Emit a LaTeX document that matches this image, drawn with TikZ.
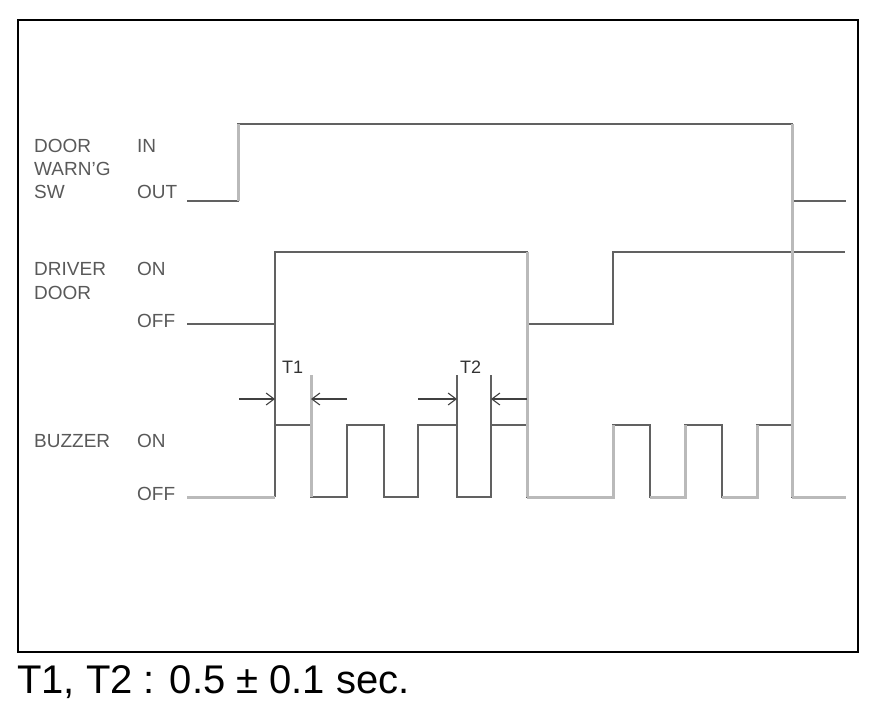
\documentclass[tikz,border=0pt]{standalone}
\usepackage{fontspec}
\setmainfont{Liberation Sans}
\usetikzlibrary{arrows.meta,positioning}

\tikzset{
  sig/.style={draw=black!62, line width=1.3pt},
  edge/.style={draw=black!27, line width=3pt},
  lbl/.style={anchor=base west, inner sep=0pt, text=black!65, font=\fontsize{19}{19}\selectfont},
  dim/.style={draw=black!75, line width=1.1pt, -{Straight Barb[length=8pt,width=12pt]}},
}

\begin{document}
\begin{tikzpicture}[x=1pt,y=-1pt]
  \useasboundingbox (0,0) rectangle (880,716);
  \draw[line width=2.5pt] (18,20) rectangle (858,652);

  % signal names and levels
  \node[lbl] (sw1) at (34,152) {DOOR};
  \node[lbl] (sw2) at (34,175) {WARN'G};
  \node[lbl] (sw3) at (34,198) {SW};
  \node[lbl] (swin) at (137,152) {IN};
  \node[lbl] (swout) at (137,198) {OUT};

  \node[lbl] (dd1) at (34,275) {DRIVER};
  \node[lbl] (dd2) at (34,299) {DOOR};
  \node[lbl] (ddon) at (137,275) {ON};
  \node[lbl] (ddoff) at (137,327) {OFF};

  \node[lbl] (bz) at (34,447) {BUZZER};
  \node[lbl] (bzon) at (137,447) {ON};
  \node[lbl] (bzoff) at (137,500) {OFF};

  % waveforms
  \draw[sig] (187,201) -- (238,201) -- (238,124) -- (792,124) -- (792,201) -- (846,201);
  \draw[sig] (187,324) -- (275,324) -- (275,252) -- (527,252) -- (527,324)
    -- (613,324) -- (613,252) -- (845,252);
  \draw[sig] (275,324) -- (275,497);
  \draw[sig] (275,425) -- (311,425) -- (311,497) -- (347,497) -- (347,425)
    -- (384,425) -- (384,497) -- (418,497) -- (418,425) -- (457,425) -- (457,497)
    -- (491,497) -- (491,425) -- (527,425) -- (527,497) -- (613,497) -- (613,425)
    -- (650,425) -- (650,497) -- (685,497) -- (685,425) -- (722,425) -- (722,497)
    -- (757,497) -- (757,425) -- (792,425) -- (792,497) -- (846,497);
  \draw[sig] (457,375) -- (457,425) (491,375) -- (491,425);

  \draw[edge] (238,201) -- (238,124);
  \draw[edge] (311,375) -- (311,497);
  \draw[edge] (527,252) -- (527,497);
  \draw[edge] (792,124) -- (792,497);
  \draw[edge] (187,497) -- (275,497);
  \draw[edge] (527,497) -- (613,497) -- (613,425);
  \draw[edge] (650,497) -- (685,497) -- (685,425);
  \draw[edge] (722,497) -- (757,497) -- (757,425);
  \draw[edge] (792,497) -- (846,497);

  % T1 / T2
  \coordinate (t1l) at (239,399);
  \coordinate (t1a) at (275,399);
  \coordinate (t1r) at (347,399);
  \coordinate (t1b) at (311,399);
  \coordinate (t2l) at (418,399);
  \coordinate (t2a) at (457,399);
  \coordinate (t2r) at (527,399);
  \coordinate (t2b) at (491,399);
  \draw[dim] (t1l) -- (t1a);
  \draw[dim] (t1r) -- (t1b);
  \draw[dim] (t2l) -- (t2a);
  \draw[dim] (t2r) -- (t2b);
  \node[lbl, text=black!80, font=\fontsize{18}{18}\selectfont] (T1) at (282,373) {T1};
  \node[lbl, text=black!80, font=\fontsize{18}{18}\selectfont] (T2) at (460,373) {T2};

  \node[anchor=base west, inner sep=0pt, font=\fontsize{40}{40}\selectfont] (note) at (17,693)
    {T1, T2 : 0.5 ± 0.1 sec.};
\end{tikzpicture}
\end{document}
